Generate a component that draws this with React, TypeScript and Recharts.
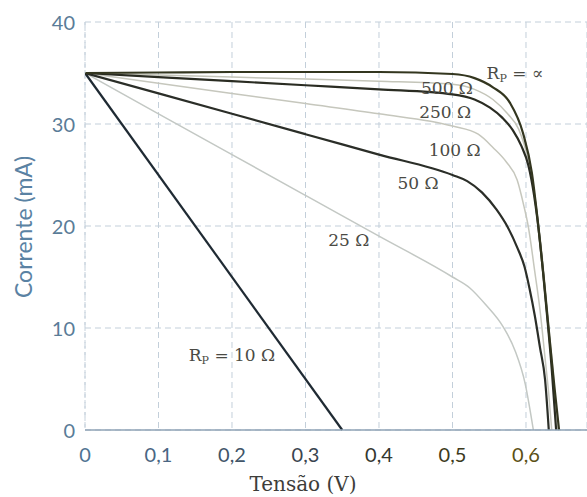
import React from "react";
import { LineChart, Line, XAxis, YAxis, CartesianGrid, ReferenceDot } from "recharts";

// Curvas I-V de uma célula solar para várias resistências em paralelo (Rp)
const xTicks = [0, 0.1, 0.2, 0.3, 0.4, 0.5, 0.6];
const yTicks = [0, 10, 20, 30, 40];

const rInfV = [0, 0.1, 0.2, 0.3, 0.4, 0.5, 0.53, 0.555, 0.578, 0.596, 0.608, 0.616, 0.624, 0.632, 0.639, 0.645];
const rInfI = [35, 35.05, 35.1, 35.1, 35.1, 34.9, 34.5, 33.6, 32.1, 29.1, 25.2, 20.5, 15, 9, 4, 0];

const r500V = [0, 0.1, 0.2, 0.3, 0.4, 0.5, 0.53, 0.555, 0.575, 0.59, 0.603, 0.613, 0.622, 0.63, 0.637, 0.643];
const r500I = [35, 34.8, 34.6, 34.4, 34.2, 33.9, 33.4, 32.4, 31.0, 29.5, 26.5, 22.5, 17, 11, 5.5, 0];

const r250V = [0, 0.1, 0.2, 0.3, 0.4, 0.5, 0.53, 0.551, 0.568, 0.582, 0.594, 0.603, 0.611, 0.619, 0.627, 0.635, 0.641];
const r250I = [35, 34.6, 34.2, 33.8, 33.4, 32.9, 32.4, 31.6, 30.6, 29.4, 27.8, 26, 23, 18.5, 12.5, 6, 0];

const r100V = [0, 0.1, 0.2, 0.3, 0.4, 0.5, 0.535, 0.555, 0.573, 0.588, 0.597, 0.603, 0.612, 0.619, 0.626, 0.631, 0.635];
const r100I = [35, 34, 33, 32, 31, 29.8, 29, 27.7, 26.3, 24.5, 22, 20, 15.5, 11.8, 7, 3.5, 0];

const r50V = [0, 0.1, 0.2, 0.3, 0.4, 0.5, 0.52, 0.54, 0.56, 0.575, 0.588, 0.598, 0.605, 0.612, 0.619, 0.626, 0.631];
const r50I = [35, 33, 31, 29, 27, 25, 24.4, 23.3, 21.6, 19.9, 17.9, 16, 13.8, 11.2, 8.1, 4.9, 0];

const r25V = [0, 0.1, 0.2, 0.3, 0.4, 0.5, 0.524, 0.545, 0.569, 0.585, 0.599, 0.61];
const r25I = [35, 31, 27, 23, 19, 15, 13.9, 12.3, 10.1, 7.8, 4.5, 0];

const r10V = [0, 0.35];
const r10I = [35, 0];

// Rótulos das curvas: texto, índice "P" subscrito, posição (V, mA)
const labelText = ["= \u221D", "500 \u03A9", "250 \u03A9", "100 \u03A9", "50 \u03A9", "25 \u03A9", "= 10 \u03A9"];
const labelHasRp = [true, false, false, false, false, false, true];
const labelV = [0.585, 0.4925, 0.49, 0.503, 0.453, 0.359, 0.2];
const labelI = [35.0, 33.5, 31.2, 27.5, 24.2, 18.6, 7.35];

const toPoints = (vs: number[], is: number[]) => vs.map((v, k) => ({ v, i: is[k] }));

const series = [
  { name: "Rp = 25", data: toPoints(r25V, r25I), color: "#c3c8c4", width: 1.5 },
  { name: "Rp = 100", data: toPoints(r100V, r100I), color: "#c6c7bd", width: 1.5 },
  { name: "Rp = 500", data: toPoints(r500V, r500I), color: "#c4c5b9", width: 1.5 },
  { name: "Rp = 10", data: toPoints(r10V, r10I), color: "#1f2a33", width: 2.2 },
  { name: "Rp = 50", data: toPoints(r50V, r50I), color: "#2b2e28", width: 2.2 },
  { name: "Rp = 250", data: toPoints(r250V, r250I), color: "#2a2c22", width: 2.2 },
  { name: "Rp = inf", data: toPoints(rInfV, rInfI), color: "#33361f", width: 2.2 },
];

const xTickColors = ["#4f7392", "#4a6683", "#415568", "#3a4550", "#34372f", "#3c3a20", "#5b5015"];

const XTick = (props: any) => {
  const { x, y, payload, index } = props;
  const label = String(payload.value).replace(".", ",");
  return (
    <text
      x={x}
      y={y + 16}
      textAnchor="middle"
      dominantBaseline="central"
      fontFamily="Lato"
      fontSize={20}
      fill={xTickColors[index] ?? "#444"}
    >
      {label}
    </text>
  );
};

const YTick = (props: any) => {
  const { x, y, payload } = props;
  return (
    <text
      x={x - 2}
      y={y}
      textAnchor="end"
      dominantBaseline="central"
      fontFamily="Lato"
      fontSize={20}
      fill="#5a7c98"
    >
      {payload.value}
    </text>
  );
};

const XTitle = (props: any) => {
  const { viewBox } = props;
  return (
    <text
      x={viewBox.x + 218}
      y={viewBox.y + 54}
      textAnchor="middle"
      dominantBaseline="central"
      fontFamily="DejaVu Serif"
      fontSize={20}
      fill="#3d3d3a"
    >
      Tensão (V)
    </text>
  );
};

const YTitle = (props: any) => {
  const { viewBox } = props;
  const cx = 23;
  const cy = viewBox.y + viewBox.height / 2 + 1;
  return (
    <text
      x={cx}
      y={cy}
      transform={`rotate(-90 ${cx} ${cy})`}
      textAnchor="middle"
      dominantBaseline="central"
      fontFamily="Lato"
      fontSize={23}
      fill="#5a82a3"
    >
      Corrente (mA)
    </text>
  );
};

const makeLabel = (k: number) => (props: any) => {
  const { cx, cy } = props;
  return (
    <text
      x={cx}
      y={cy}
      textAnchor="middle"
      dominantBaseline="central"
      fontFamily="DejaVu Serif"
      fontSize={17}
      fill="#4a4a44"
    >
      {labelHasRp[k] ? (
        <>
          R<tspan fontSize={11} dy={5}>P</tspan>
          <tspan dy={-5}> {labelText[k]}</tspan>
        </>
      ) : (
        labelText[k]
      )}
    </text>
  );
};

export default function App() {
  return (
    <div style={{ position: "absolute", left: 0, top: 0, width: 587, height: 497, background: "#fff" }}>
      <LineChart width={587} height={497} margin={{ top: 22, right: 0, bottom: 0, left: 0 }}>
        <CartesianGrid stroke="#c3cfda" strokeDasharray="6 4" strokeWidth={1} />
        <XAxis
          type="number"
          dataKey="v"
          domain={[0, 0.683]}
          ticks={xTicks}
          allowDataOverflow
          height={67}
          tickLine={false}
          axisLine={{ stroke: "#8fa3b6", strokeWidth: 1.5 }}
          tick={<XTick />}
          label={<XTitle />}
        />
        <YAxis
          type="number"
          dataKey="i"
          domain={[0, 40]}
          ticks={yTicks}
          width={85}
          tickLine={false}
          axisLine={{ stroke: "#c8d3dd", strokeDasharray: "3 3" }}
          tick={<YTick />}
          label={<YTitle />}
        />
        {series.map((s) => (
          <Line
            key={s.name}
            data={s.data}
            dataKey="i"
            type="monotone"
            stroke={s.color}
            strokeWidth={s.width}
            dot={false}
            activeDot={false}
            isAnimationActive={false}
          />
        ))}
        {labelText.map((t, k) => (
          <ReferenceDot
            key={t}
            x={labelV[k]}
            y={labelI[k]}
            r={0}
            ifOverflow="visible"
            shape={makeLabel(k)}
          />
        ))}
      </LineChart>
    </div>
  );
}
